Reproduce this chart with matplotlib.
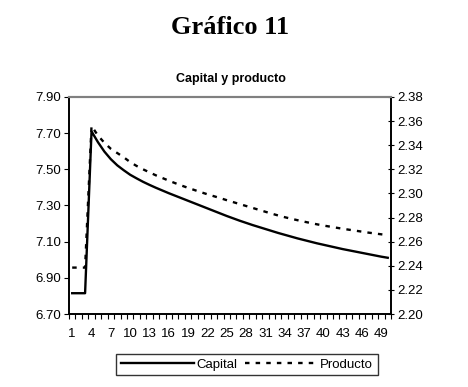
import matplotlib
matplotlib.use("Agg")
import matplotlib.pyplot as plt
import numpy as np

periods = list(range(1, 51))
capital = [6.815, 6.815, 6.815, 7.710, 7.650, 7.598, 7.556, 7.522, 7.495, 7.470,
           7.450, 7.431, 7.414, 7.398, 7.383, 7.368, 7.354, 7.340, 7.326, 7.312,
           7.298, 7.284, 7.270, 7.256, 7.242, 7.229, 7.216, 7.204, 7.192, 7.181,
           7.170, 7.159, 7.148, 7.138, 7.128, 7.118, 7.109, 7.100, 7.091, 7.083,
           7.075, 7.067, 7.059, 7.052, 7.045, 7.038, 7.031, 7.024, 7.017, 7.011]
producto = [2.2385, 2.2385, 2.2385, 2.3560, 2.3480, 2.3420, 2.3370, 2.3335, 2.3300, 2.3260,
            2.3228, 2.3200, 2.3175, 2.3150, 2.3128, 2.3106, 2.3085, 2.3065, 2.3046, 2.3028,
            2.3010, 2.2993, 2.2977, 2.2961, 2.2944, 2.2928, 2.2912, 2.2896, 2.2880, 2.2864,
            2.2848, 2.2832, 2.2817, 2.2803, 2.2790, 2.2778, 2.2766, 2.2755, 2.2744, 2.2734,
            2.2725, 2.2716, 2.2707, 2.2699, 2.2691, 2.2683, 2.2675, 2.2668, 2.2661, 2.2654]
left_ticks = [6.70, 6.90, 7.10, 7.30, 7.50, 7.70, 7.90]
right_ticks = [2.20, 2.22, 2.24, 2.26, 2.28, 2.30, 2.32, 2.34, 2.36, 2.38]
x_labels = list(range(1, 51, 3))

plt.rcParams['font.family'] = ['Liberation Sans', 'DejaVu Sans']

fig = plt.figure(figsize=(4.68, 3.87), dpi=100)
ax = fig.add_axes([0.1474, 0.1886, 0.688, 0.5608])
ax2 = ax.twinx()

l1, = ax.plot(periods, capital, color='black', lw=1.7, label='Capital')
l2, = ax2.plot(periods, producto, color='black', lw=1.7, ls=(0, (1.9, 2.6)), label='Producto')

ax.set_xlim(0.5, 50.5)
ax.set_ylim(6.70, 7.90)
ax2.set_ylim(2.20, 2.38)
ax.set_yticks(left_ticks)
ax.set_yticklabels([f"{v:.2f}" for v in left_ticks])
ax2.set_yticks(right_ticks)
ax2.set_yticklabels([f"{v:.2f}" for v in right_ticks])
ax.set_xticks(x_labels)
ax.set_xticklabels([str(v) for v in x_labels])
ax.set_xticks(np.arange(0.5, 51.0, 1.0), minor=True)

ax.tick_params(axis='x', which='major', length=0, pad=10, labelsize=9.5)
ax.tick_params(axis='x', which='minor', length=3.5, width=0.8, direction='out')
ax.tick_params(axis='y', length=3.5, width=0.8, direction='out', labelsize=9.5, pad=2)
ax2.tick_params(axis='y', length=5, width=0.8, direction='inout', labelsize=9.5, pad=2)

for a in (ax, ax2):
    a.spines['top'].set_color('#808080')
    a.spines['top'].set_linewidth(1.5)
    a.spines['left'].set_linewidth(1.2)
    a.spines['right'].set_linewidth(1.2)
    a.spines['bottom'].set_linewidth(1.2)

fig.text(0.492, 0.93, "Gráfico 11", ha='center', va='center', fontsize=19,
         fontweight='bold', family=['Liberation Serif', 'DejaVu Serif'])
fig.text(0.494, 0.795, "Capital y producto", ha='center', va='center', fontsize=9,
         fontweight='bold')

leg = fig.legend(handles=[l1, l2], loc='center', bbox_to_anchor=(0.528, 0.058), ncol=2,
                 frameon=True, fancybox=False, edgecolor='black', fontsize=9.5,
                 handlelength=5.5, columnspacing=0.6, handletextpad=0.2,
                 borderpad=0.35)
leg.get_frame().set_linewidth(1.0)

fig.savefig("out.png", dpi=100)
